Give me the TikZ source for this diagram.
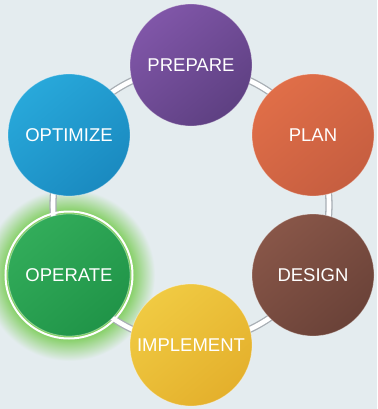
\documentclass[tikz,border=0pt]{standalone}
\usepackage{fontspec}
\setmainfont{Liberation Sans}
\pgfdeclarelayer{back}
\pgfdeclarelayer{mid}
\pgfsetlayers{back,mid,main}
\definecolor{bgc}{RGB}{228,236,239}
\definecolor{glowc}{RGB}{125,205,90}
\definecolor{purL}{RGB}{128,86,168}\definecolor{purD}{RGB}{94,64,130}
\definecolor{orL}{RGB}{224,110,72}\definecolor{orD}{RGB}{198,94,64}
\definecolor{brL}{RGB}{136,86,72}\definecolor{brD}{RGB}{106,66,56}
\definecolor{yeL}{RGB}{240,202,66}\definecolor{yeD}{RGB}{228,176,44}
\definecolor{grL}{RGB}{50,172,90}\definecolor{grD}{RGB}{32,148,72}
\definecolor{blL}{RGB}{40,168,218}\definecolor{blD}{RGB}{26,138,192}
\definecolor{linkc}{RGB}{168,174,180}
\pgfdeclareradialshading{glowshade}{\pgfpoint{0bp}{0bp}}{color(0bp)=(glowc); color(17.5bp)=(glowc); color(19bp)=(glowc!85!bgc); color(25bp)=(bgc); color(50bp)=(bgc)}
\tikzset{
  ball/.style n args={2}{circle, minimum size=122pt, inner sep=0pt,
    shading=axis, top color=#1, bottom color=#2, shading angle=40,
    draw=white, draw opacity=0.35, line width=0.8pt,
    text=white, font=\fontsize{18.5}{20}\selectfont},
  link/.style={line width=1.3pt, draw=linkc, double=white, double distance=4.6pt},
}
\begin{document}
\begin{tikzpicture}[x=1pt,y=1pt]
\useasboundingbox (0,0) rectangle (377,-409);
\begin{pgfonlayer}{back}
  \fill[bgc] (0,0) rectangle (377,-409);
\end{pgfonlayer}
\node[ball={purL}{purD}] (prepare) at (191,-65) {PREPARE};
\node[ball={orL}{orD}] (plan) at (313,-135) {PLAN};
\node[ball={brL}{brD}] (design) at (313,-275) {DESIGN};
\node[ball={yeL}{yeD}] (implement) at (191,-345) {IMPLEMENT};
\node[ball={grL}{grD}] (operate) at (69,-275) {OPERATE};
\node[ball={blL}{blD}] (optimize) at (69,-135) {OPTIMIZE};
\draw[white, line width=2pt] (operate.center) circle (63.5);
\begin{pgfonlayer}{back}
  \shade[shading=glowshade] (operate.center) circle (86);
\end{pgfonlayer}
\begin{pgfonlayer}{mid}
  \draw[link] (prepare.center) to[bend left=23] (plan.center);
  \draw[link] (plan.center) to[bend left=23] (design.center);
  \draw[link] (design.center) to[bend left=23] (implement.center);
  \draw[link] (implement.center) to[bend left=23] (operate.center);
  \draw[link] (operate.center) to[bend left=23] (optimize.center);
  \draw[link] (optimize.center) to[bend left=23] (prepare.center);
\end{pgfonlayer}
\end{tikzpicture}
\end{document}
